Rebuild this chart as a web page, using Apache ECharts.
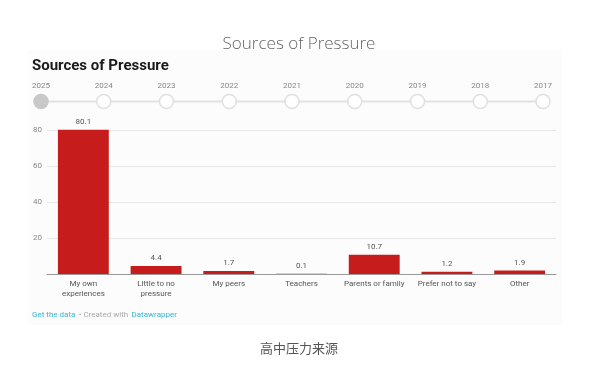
<!DOCTYPE html>
<html><head><meta charset="utf-8">
<script src="https://cdn.jsdelivr.net/npm/echarts@6/dist/echarts.min.js"></script>
<style>html,body{margin:0;padding:0;background:#fff}#c{width:598px;height:375px}</style>
</head><body><div id="c"></div>
<script>
const categories = ["My own\nexperiences", "Little to no\npressure", "My peers", "Teachers", "Parents or family", "Prefer not to say", "Other"];
const values = [80.1, 4.4, 1.7, 0.1, 10.7, 1.2, 1.9];
const years = ["2025", "2024", "2023", "2022", "2021", "2020", "2019", "2018", "2017"];
const yTicks = [0, 20, 40, 60, 80];

const chart = echarts.init(document.getElementById('c'));
chart.setOption({
  backgroundColor: '#fff',
  animation: false,
  graphic: [
    {type: 'rect', shape: {x: 28, y: 50, width: 534, height: 275}, style: {fill: '#fcfcfc'}, z: -10},
    {type: 'text', left: 32, top: 59, style: {text: 'Sources of Pressure', font: 'bold 15px Roboto', fill: '#1a1a1a'}},
    {type: 'text', left: 32, top: 309, style: {rich: {a: {fill: '#3ab4cf', font: '8px Roboto'}, b: {fill: '#aaa', font: '8px Roboto'}},
      text: '{a|Get the data} {b|• Created with} {a|Datawrapper}'}}
  ],
  title: [
    {text: 'Sources of Pressure', left: 'center', top: 31, textStyle: {fontFamily: 'Open Sans', fontWeight: 300, fontSize: 17, color: '#666'}},
    {text: '高中压力来源', left: 'center', top: 337, textStyle: {fontFamily: 'Noto Sans CJK SC', fontWeight: 'normal', fontSize: 13, color: '#555'}}
  ],
  grid: [
    {left: 47, right: 42, top: 130, height: 144},
    {left: 41, right: 55, top: 101, height: 1}
  ],
  xAxis: [
    {type: 'category', gridIndex: 0, data: categories,
      axisLine: {lineStyle: {color: '#999', width: 1}}, axisTick: {show: false},
      axisLabel: {color: '#555', fontSize: 8, fontFamily: 'Roboto', margin: 5, lineHeight: 10, interval: 0}},
    {type: 'category', gridIndex: 1, data: years, boundaryGap: false, position: 'top',
      axisLine: {show: false}, axisTick: {show: false},
      axisLabel: {color: '#888', fontSize: 8, fontFamily: 'Roboto', margin: 11}}
  ],
  yAxis: [
    {type: 'value', gridIndex: 0, min: 0, max: 80, interval: 20,
      axisLine: {show: false}, axisTick: {show: false},
      splitLine: {lineStyle: {color: '#e6e6e6', width: 1}},
      axisLabel: {color: '#888', fontSize: 8, fontFamily: 'Roboto', margin: 5,
        formatter: v => (yTicks.includes(v) && v !== 0) ? String(v) : ''}},
    {type: 'value', gridIndex: 1, min: 0, max: 1, show: false}
  ],
  series: [
    {type: 'bar', xAxisIndex: 0, yAxisIndex: 0, data: values, barWidth: '70%', clip: false,
      itemStyle: {color: '#c61c1c'},
      label: {show: true, position: 'top', distance: 4, color: '#555', fontSize: 8, fontFamily: 'Roboto'}},
    {type: 'line', xAxisIndex: 1, yAxisIndex: 1,
      data: years.map((y, i) => ({value: 0.5, itemStyle: i === 0 ? {color: '#c8c8c8', borderColor: '#c8c8c8'} : undefined})),
      symbol: 'circle', symbolSize: 14, showSymbol: true,
      lineStyle: {color: '#e2e2e2', width: 2},
      itemStyle: {color: '#fff', borderColor: '#e0e0e0', borderWidth: 1.5}}
  ]
});
</script></body></html>
